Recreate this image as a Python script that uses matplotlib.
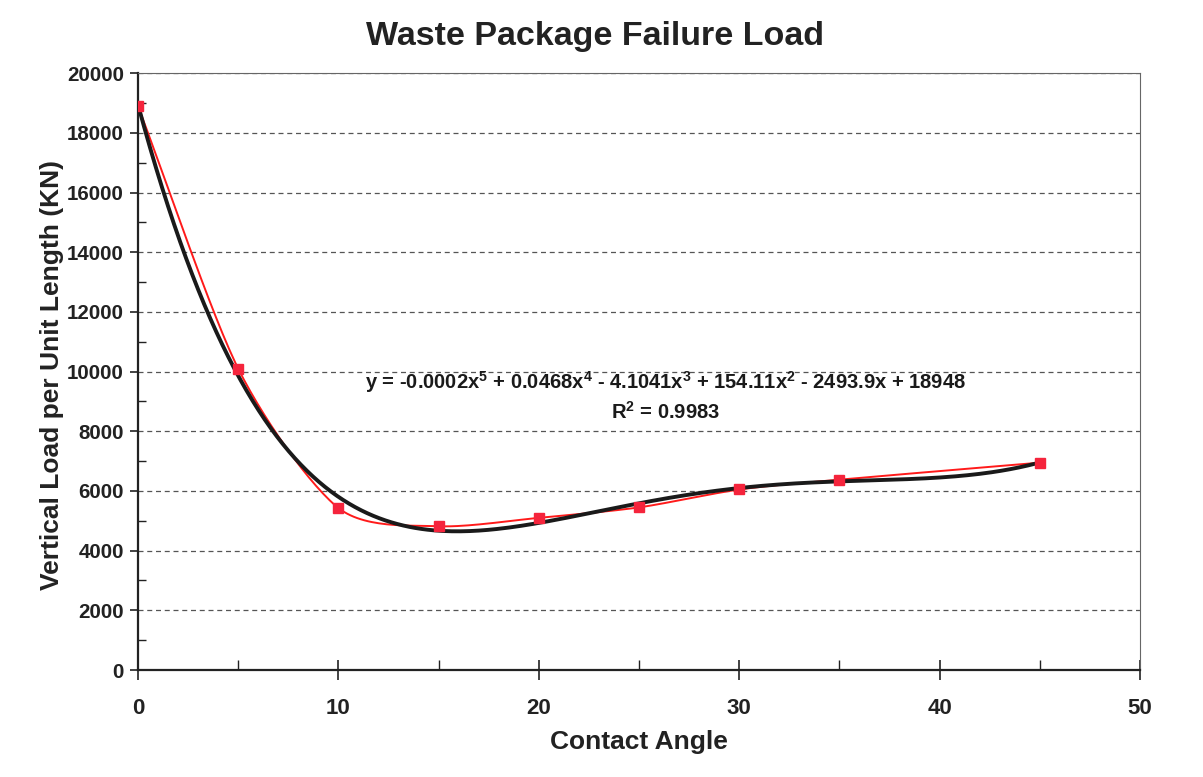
import numpy as np
import matplotlib.pyplot as plt
from matplotlib.ticker import MultipleLocator

# contact angle (deg) vs failure load (kN per unit length)
angle = [0, 5, 10, 15, 20, 25, 30, 35, 45]
load = [18900, 10100, 5430, 4820, 5100, 5450, 6050, 6380, 6950]

eq_text = ("y = -0.0002x$^5$ + 0.0468x$^4$ - 4.1041x$^3$ + 154.11x$^2$ - 2493.9x + 18948\n"
           "R$^2$ = 0.9983")

plt.rcParams["font.family"] = ["Liberation Sans", "DejaVu Sans"]
plt.rcParams["mathtext.default"] = "regular"
plt.rcParams["text.color"] = "#222222"
plt.rcParams["axes.labelcolor"] = "#222222"
plt.rcParams["xtick.labelcolor"] = "#222222"
plt.rcParams["ytick.labelcolor"] = "#222222"


def smooth_line(x, y, n=30):
    # Catmull-Rom style smoothing between the points (like a spreadsheet "smoothed line")
    x = np.asarray(x, float)
    y = np.asarray(y, float)
    xs, ys = [], []
    for i in range(len(x) - 1):
        p0 = i - 1 if i > 0 else i
        p3 = i + 2 if i + 2 < len(x) else i + 1
        k0 = 1 if i > 0 else 2
        k1 = 1 if i + 2 < len(x) else 2
        mx0 = (x[i + 1] - x[p0]) / 2 * k0 * 0.8
        my0 = (y[i + 1] - y[p0]) / 2 * k0 * 0.8
        mx1 = (x[p3] - x[i]) / 2 * k1 * 0.8
        my1 = (y[p3] - y[i]) / 2 * k1 * 0.8
        t = np.linspace(0, 1, n)
        h00 = 2 * t**3 - 3 * t**2 + 1
        h10 = t**3 - 2 * t**2 + t
        h01 = -2 * t**3 + 3 * t**2
        h11 = t**3 - t**2
        xs.append(h00 * x[i] + h10 * mx0 + h01 * x[i + 1] + h11 * mx1)
        ys.append(h00 * y[i] + h10 * my0 + h01 * y[i + 1] + h11 * my1)
    return np.concatenate(xs), np.concatenate(ys)


fig = plt.figure(figsize=(12.03, 7.77), dpi=100)
ax = fig.add_axes([0.1147, 0.1377, 0.833, 0.768])

# measured points with smoothed connecting line
sx, sy = smooth_line(angle, load)
ax.plot(sx, sy, color="#ff1a1a", linewidth=1.4, zorder=3)
ax.plot(angle, load, linestyle="none", marker="s", markersize=7,
        color="#f5243c", zorder=4)

# 5th order polynomial trendline
coef = np.polyfit(angle, load, 5)
xt = np.linspace(min(angle), max(angle), 300)
ax.plot(xt, np.polyval(coef, xt), color="#1a1a1a", linewidth=2.8, zorder=3.5)

ax.text(26.3, 9180, eq_text, ha="center", va="center", fontsize=14.5,
        fontweight="bold", color="#1a1a1a", linespacing=1.35)

ax.set_xlim(0, 50)
ax.set_ylim(0, 20000)
ax.xaxis.set_major_locator(MultipleLocator(10))
ax.xaxis.set_minor_locator(MultipleLocator(5))
ax.yaxis.set_major_locator(MultipleLocator(2000))
ax.yaxis.set_minor_locator(MultipleLocator(1000))

ax.grid(axis="y", which="major", linestyle=(0, (4, 3)), color="#555555", linewidth=0.9)
ax.set_axisbelow(True)

ax.tick_params(axis="x", which="major", direction="inout", length=14, width=1.2,
               pad=13, labelsize=16, color="#222222")
ax.tick_params(axis="x", which="minor", direction="in", length=7, width=1.0, color="#222222")
ax.tick_params(axis="y", which="major", direction="out", length=6, width=1.2,
               pad=4, labelsize=14.8, color="#222222")
ax.tick_params(axis="y", which="minor", direction="in", length=6, width=1.0, color="#222222")
for lab in ax.get_xticklabels() + ax.get_yticklabels():
    lab.set_fontweight("bold")

ax.spines["left"].set_linewidth(1.6)
ax.spines["bottom"].set_linewidth(1.6)
ax.spines["left"].set_color("#222222")
ax.spines["bottom"].set_color("#222222")
ax.spines["top"].set_color("#666666")
ax.spines["right"].set_color("#666666")

ax.set_xlabel("Contact Angle", fontsize=19, fontweight="bold", labelpad=8)
ax.set_ylabel("Vertical Load per Unit Length (KN)", fontsize=19, fontweight="bold")
ax.yaxis.set_label_coords(-0.074, 0.495)
ax.set_title("Waste Package Failure Load", fontsize=24.5, fontweight="bold", pad=20,
             x=0.456)

fig.savefig("out.png", dpi=100)
